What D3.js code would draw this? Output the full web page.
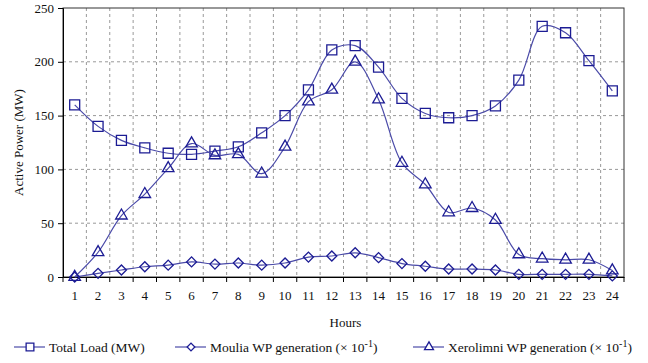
<!DOCTYPE html>
<html>
<head>
<meta charset="utf-8">
<script src="https://cdn.jsdelivr.net/npm/d3@7/dist/d3.min.js"></script>
<style>
  body { margin: 0; background: #fff; }
  text { font-family: "Liberation Serif", "Times New Roman", serif; }
</style>
</head>
<body>
<div id="chart"></div>
<script>
const hours = d3.range(1, 25);
const totalLoad = [160, 140, 127, 120, 115, 114, 117, 121, 134, 150, 174, 211,
                   215, 195, 166, 152, 148, 150, 159, 183, 233, 227, 201, 173];
const moulia = [0, 3.4, 6.5, 9.5, 11, 14, 12, 13, 11, 13, 18.5, 19.5,
                22.5, 18, 12.5, 10, 7.4, 7.4, 6.5, 2.5, 2.5, 2.5, 2.5, 1];
const xerolimni = [0, 23, 57, 77, 101, 124, 113, 114, 96, 121, 163, 174,
                   200, 165, 106, 86, 60, 64, 53, 21, 17, 16, 16, 6];
const yTicks = [0, 50, 100, 150, 200, 250];

const W = 648, H = 363;
const m = { left: 63, top: 8, right: 24, bottom: 86 };
const iw = W - m.left - m.right, ih = H - m.top - m.bottom;
const markColor = "#1c1c94", lineColor = "#4a4aa8";
const FONT = "Liberation Serif";

const svg = d3.select("#chart").append("svg").attr("width", W).attr("height", H)
  .attr("font-family", FONT);
const g = svg.append("g").attr("transform", `translate(${m.left},${m.top})`);

const x = d3.scaleBand().domain(hours).range([0, iw]);
const y = d3.scaleLinear().domain([0, 250]).range([ih, 0]);

// grid
g.append("g").selectAll("line").data(hours.slice(1)).enter().append("line")
  .attr("x1", d => x(d)).attr("x2", d => x(d)).attr("y1", 0).attr("y2", ih)
  .attr("stroke", "#999").attr("stroke-dasharray", "3,3");
g.append("g").selectAll("line").data(yTicks.slice(1, -1)).enter().append("line")
  .attr("x1", 0).attr("x2", iw).attr("y1", d => y(d)).attr("y2", d => y(d))
  .attr("stroke", "#999").attr("stroke-dasharray", "3,3");

// frame
g.append("rect").attr("width", iw).attr("height", ih)
  .attr("fill", "none").attr("stroke", "#333").attr("stroke-width", 1);

// axes
const yAxis = g.append("g").call(d3.axisLeft(y).tickValues(yTicks).tickSize(5).tickPadding(4))
  .attr("font-family", FONT).attr("font-size", 13);
yAxis.select(".domain").attr("stroke", "#000");

const xAxis = g.append("g").attr("transform", `translate(0,${ih})`)
  .call(d3.axisBottom(x).tickSize(0).tickPadding(14))
  .attr("font-family", FONT).attr("font-size", 13);
xAxis.select(".domain").attr("stroke", "#000");
// tick marks at band boundaries
xAxis.append("g").selectAll("line").data(hours.concat([25])).enter().append("line")
  .attr("x1", d => d === 25 ? iw : x(d)).attr("x2", d => d === 25 ? iw : x(d))
  .attr("y1", 0).attr("y2", 5).attr("stroke", "#000");

svg.append("text").attr("x", m.left + iw / 2 + 2).attr("y", 327)
  .attr("text-anchor", "middle").attr("font-size", 13).text("Hours");
svg.append("text").attr("transform", `translate(23,${m.top + ih / 2}) rotate(-90)`)
  .attr("text-anchor", "middle").attr("font-size", 13).text("Active Power (MW)");

const cx = d => x(d) + x.bandwidth() / 2;
const line = d3.line().x((d, i) => cx(hours[i])).y(d => y(d)).curve(d3.curveCatmullRom.alpha(0.5));

const series = [
  { name: "Total Load (MW)", values: totalLoad, shape: d3.symbolSquare, size: 100, rot: 0 },
  { name: "Moulia WP generation", values: moulia, shape: d3.symbolSquare, size: 50, rot: 45 },
  { name: "Xerolimni WP generation", values: xerolimni, shape: d3.symbolTriangle, size: 58, rot: 0 }
];

series.forEach(s => {
  g.append("path").datum(s.values).attr("d", line)
    .attr("fill", "none").attr("stroke", lineColor).attr("stroke-width", 1.2);
  g.append("g").selectAll("path").data(s.values).enter().append("path")
    .attr("transform", (d, i) => `translate(${cx(hours[i])},${y(d)}) rotate(${s.rot})`)
    .attr("d", d3.symbol().type(s.shape).size(s.size))
    .attr("fill", "none").attr("stroke", markColor).attr("stroke-width", 1.3);
});

// legend
const legX = [14, 175, 413];
const leg = svg.append("g");
series.forEach((s, i) => {
  const lg = leg.append("g").attr("transform", `translate(${legX[i]},347)`);
  lg.append("line").attr("x1", 0).attr("x2", 31).attr("stroke", lineColor).attr("stroke-width", 1.2);
  lg.append("path").attr("transform", `translate(16,0) rotate(${s.rot})`)
    .attr("d", d3.symbol().type(s.shape).size(s.size * 0.6))
    .attr("fill", "#fff").attr("stroke", markColor).attr("stroke-width", 1.3);
  const t = lg.append("text").attr("x", 35).attr("y", 4.5).attr("font-size", 13.5).text(s.name);
  if (i > 0) {
    t.append("tspan").text(" (\u00d7 10");
    t.append("tspan").attr("dy", -5).attr("font-size", 10).text("-1");
    t.append("tspan").attr("dy", 5).text(")");
  }
});

svg.selectAll("text").attr("fill", "#111");
</script>
</body>
</html>
